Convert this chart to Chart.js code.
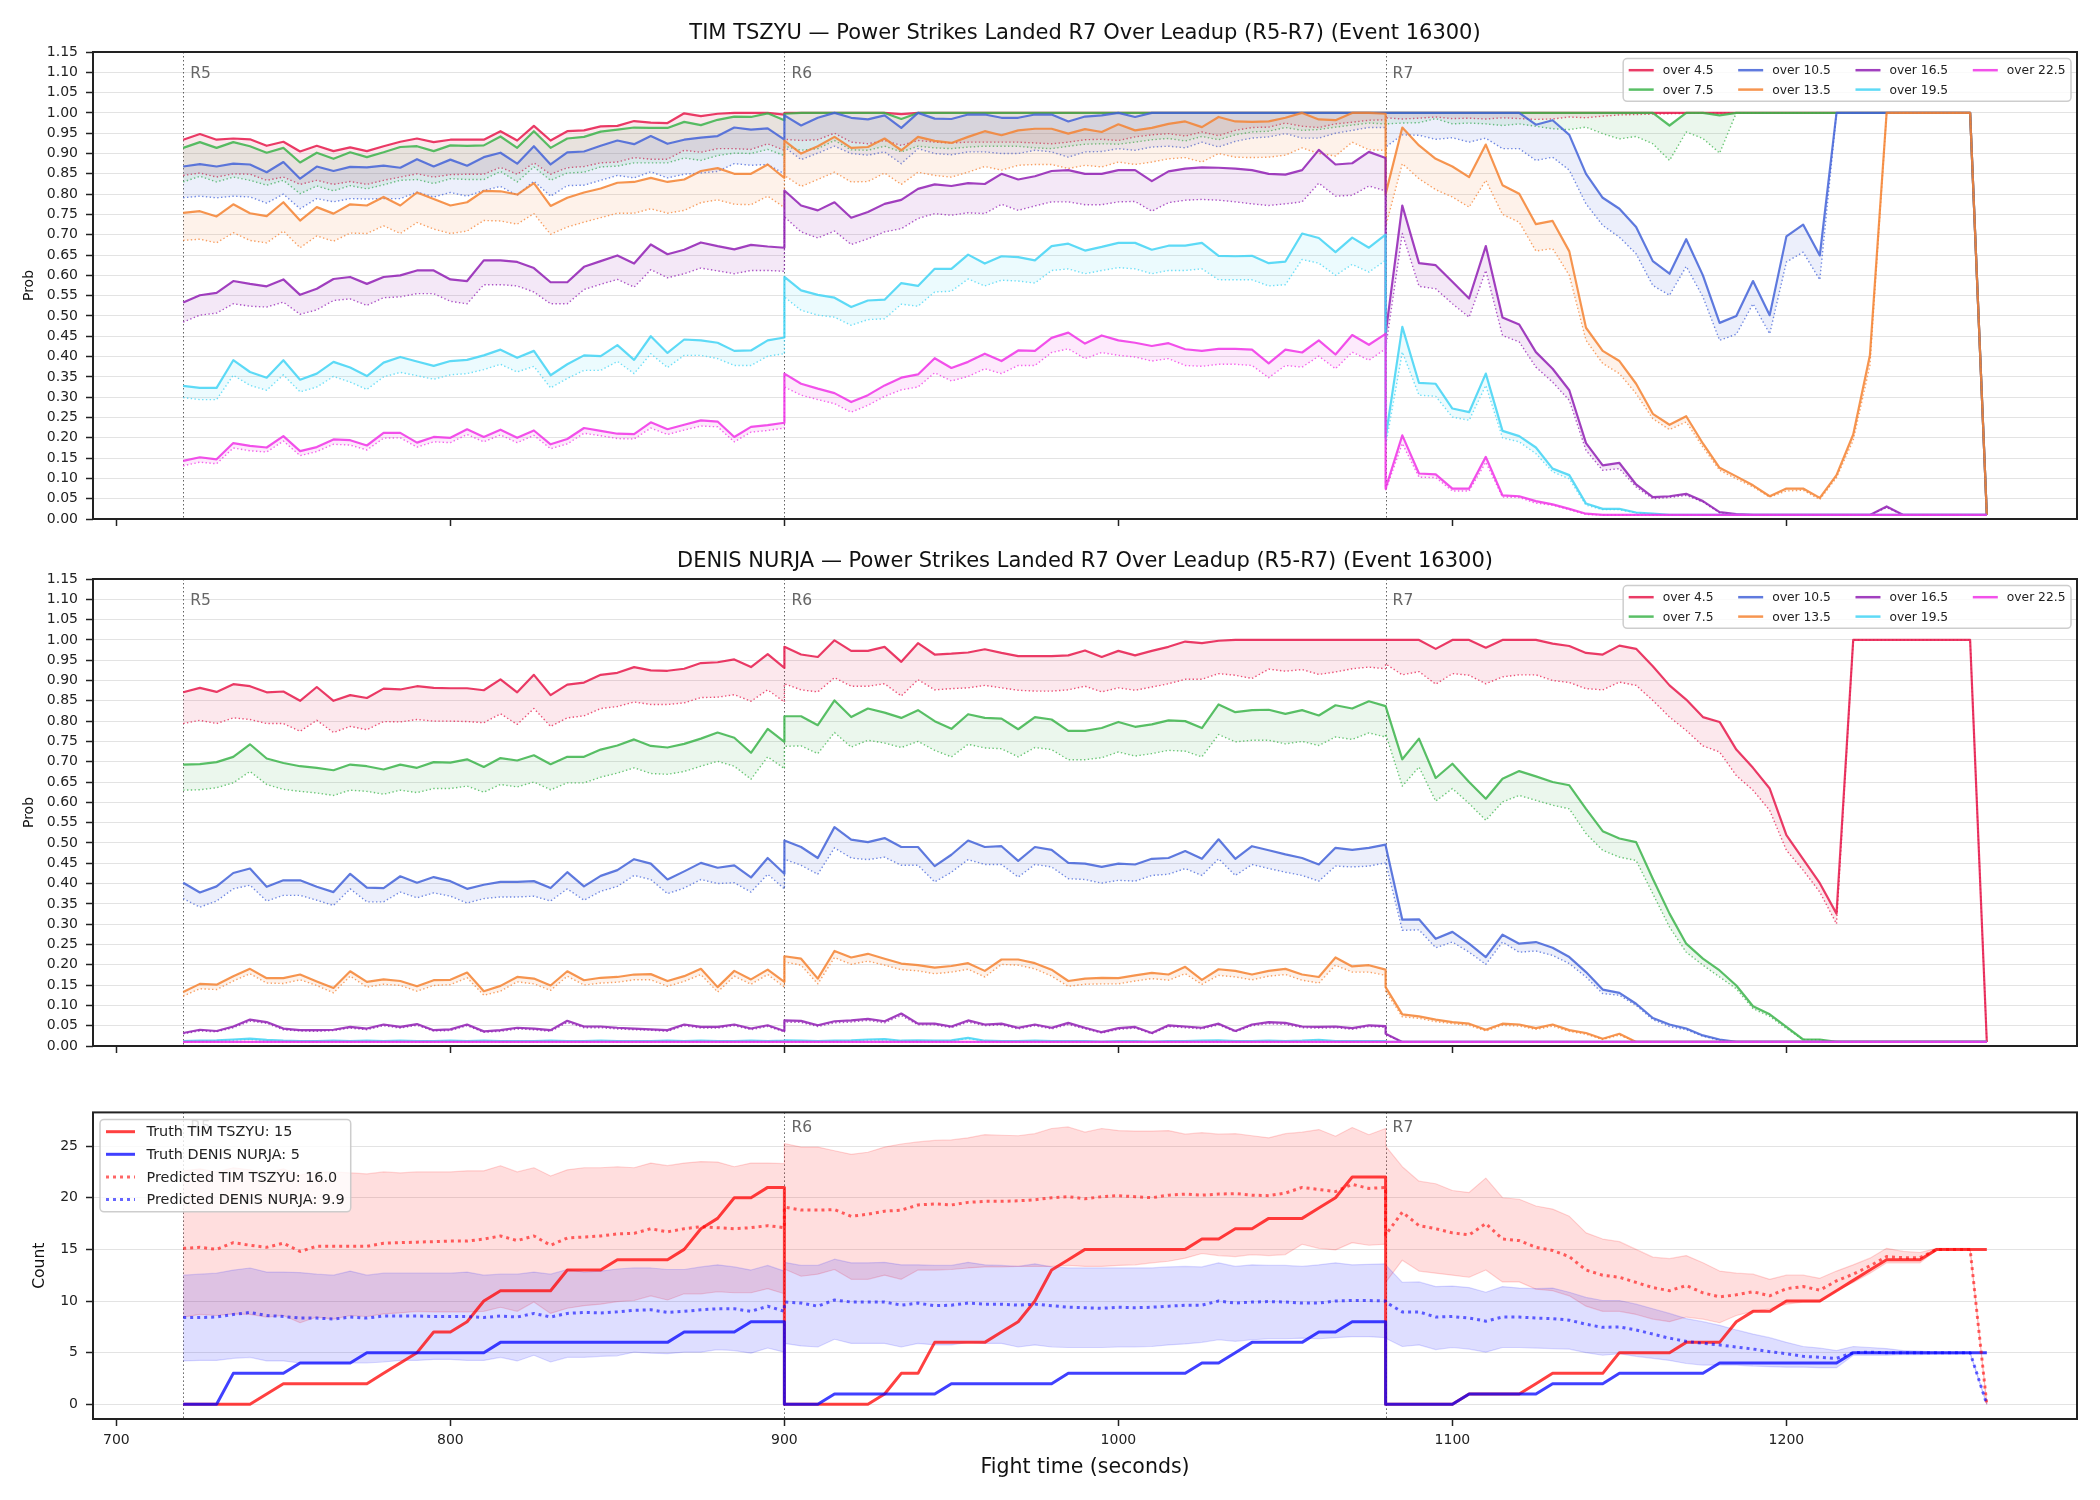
<!DOCTYPE html>
<html>
<head>
<meta charset="utf-8">
<script src="https://cdn.jsdelivr.net/npm/chart.js@4.4.1/dist/chart.umd.min.js"></script>
<style>
  html, body { margin: 0; padding: 0; background: #fff; }
  #wrap { position: relative; width: 2100px; height: 1500px; }
  #wrap canvas { position: absolute; left: 0; }
</style>
</head>
<body>
<div id="wrap">
  <canvas id="c1" width="2100" height="548" style="top:0px"></canvas>
  <canvas id="c2" width="2100" height="548" style="top:548px"></canvas>
  <canvas id="c3" width="2100" height="404" style="top:1096px"></canvas>
</div>
<script>
// ---- categories / ticks ----
const roundStarts = [720, 900, 1080];
const roundNames = ['R5', 'R6', 'R7'];
const probLevels = ['over 4.5', 'over 7.5', 'over 10.5', 'over 13.5', 'over 16.5', 'over 19.5', 'over 22.5'];
const probTicks = [0, 0.05, 0.1, 0.15, 0.2, 0.25, 0.3, 0.35, 0.4, 0.45, 0.5, 0.55, 0.6, 0.65, 0.7, 0.75, 0.8, 0.85, 0.9, 0.95, 1, 1.05, 1.1, 1.15];
const countTicks = [0, 5, 10, 15, 20, 25];
const xTickVals = [700, 800, 900, 1000, 1100, 1200];

// sample times: every 5 s inside each round, both ends included
const times = [];
roundStarts.forEach(s => { for (let k = 0; k <= 36; k++) times.push(s + 5 * k); });

// ---- TIM TSZYU: solid lines (one row per round: R5 / R6 / R7) ----
const tim45 = [
  0.934,0.948,0.934,0.937,0.935,0.919,0.929,0.905,0.919,0.906, 0.915,0.906,0.918,0.929,0.937,0.928,0.934,0.934,0.934,0.955, 0.932,0.968,0.932,0.955,0.957,0.967,0.968,0.980,0.976,0.975, 0.999,0.992,0.998,1,1,1,0.996,
  1,1,1,1,1,1,1,0.997,1,1, 1,1,1,1,1,1,1,1,1,1, 1,1,1,1,1,1,1,1,1,1, 1,1,1,1,1,1,1,
  1,1,1,1,1,1,1,1,1,1, 1,1,1,1,1,1,1,1,1,1, 1,1,1,1,1,1,1,1,1,1, 1,1,1,1,1,1,0.01];
const tim45p = [
  0.846,0.852,0.842,0.850,0.849,0.834,0.842,0.824,0.834,0.824, 0.831,0.824,0.834,0.842,0.850,0.842,0.848,0.849,0.849,0.866, 0.849,0.877,0.849,0.865,0.868,0.877,0.879,0.890,0.886,0.886, 0.908,0.903,0.912,0.912,0.910,0.924,0.908,
  0.935,0.932,0.934,0.950,0.928,0.924,0.932,0.920,0.932,0.928, 0.926,0.928,0.928,0.928,0.928,0.926,0.924,0.928,0.934,0.935, 0.932,0.941,0.946,0.949,0.943,0.953,0.944,0.957,0.964,0.965, 0.975,0.967,0.964,0.973,0.977,0.982,0.983,
  0.988,0.985,0.987,0.990,0.986,0.987,0.985,0.988,0.986,0.984, 0.985,0.990,0.988,0.992,0.995,0.996,0.997,0.998,0.999,0.999, 1,1,1,1,1,1,1,1,1,1, 1,1,1,1,1,1,0.01];
const tim75 = [
  0.914,0.928,0.914,0.928,0.918,0.902,0.914,0.878,0.902,0.887, 0.903,0.891,0.903,0.916,0.918,0.906,0.920,0.919,0.920,0.942, 0.914,0.955,0.914,0.937,0.941,0.954,0.959,0.964,0.963,0.963, 0.978,0.970,0.983,0.991,0.990,0.999,0.982,
  0.998,1,1,1,1,1,1,0.985,1,1, 1,1,1,1,1,1,1,1,1,1, 1,1,1,1,1,1,1,1,1,1, 1,1,1,1,1,1,1,
  1,1,1,1,1,1,1,1,1,1, 1,1,1,1,1,1,1,0.969,1,1, 0.994,1,1,1,1,1,1,1,1,1, 1,1,1,1,1,1,0.01];
const tim75p = [
  0.830,0.844,0.830,0.842,0.834,0.822,0.834,0.801,0.820,0.808, 0.821,0.813,0.823,0.834,0.836,0.826,0.838,0.836,0.836,0.856, 0.830,0.867,0.834,0.852,0.854,0.867,0.869,0.877,0.877,0.877, 0.889,0.883,0.895,0.901,0.900,0.910,0.895,
  0.918,0.908,0.912,0.932,0.909,0.908,0.918,0.904,0.918,0.914, 0.912,0.916,0.918,0.918,0.918,0.914,0.912,0.918,0.923,0.924, 0.923,0.928,0.934,0.937,0.931,0.942,0.934,0.946,0.953,0.955, 0.964,0.957,0.959,0.965,0.970,0.975,0.973,
  0.973,0.975,0.976,0.986,0.973,0.975,0.973,0.969,0.973,0.967, 0.961,0.959,0.965,0.949,0.936,0.942,0.924,0.883,0.953,0.937, 0.901,1,1,1,1,1,1,1,1,1, 1,1,1,1,1,1,0.01];
const tim105 = [
  0.868,0.874,0.868,0.875,0.873,0.854,0.879,0.838,0.868,0.857, 0.867,0.866,0.870,0.865,0.886,0.868,0.885,0.870,0.891,0.902, 0.875,0.918,0.873,0.903,0.905,0.919,0.932,0.923,0.943,0.924, 0.934,0.939,0.943,0.964,0.959,0.962,0.934,
  0.994,0.969,0.988,1,0.988,0.984,0.994,0.963,1,0.986, 0.985,0.996,0.996,0.988,0.988,0.996,0.996,0.979,0.991,0.994, 1,0.990,1,1,1,1,1,1,1,1, 1,1,1,1,1,1,1,
  1,1,1,1,1,1,1,1,1,0.971, 0.982,0.946,0.850,0.791,0.764,0.719,0.635,0.604,0.689,0.600, 0.483,0.500,0.586,0.502,0.696,0.725,0.649,1,1,1, 1,1,1,1,1,1,0.01];
const tim105p = [
  0.791,0.795,0.791,0.795,0.793,0.778,0.800,0.764,0.789,0.781, 0.789,0.788,0.789,0.789,0.805,0.793,0.804,0.795,0.809,0.819, 0.797,0.832,0.795,0.821,0.822,0.834,0.846,0.840,0.855,0.840, 0.849,0.852,0.856,0.875,0.871,0.873,0.850,
  0.916,0.885,0.901,0.918,0.900,0.896,0.904,0.875,0.912,0.900, 0.897,0.904,0.904,0.900,0.900,0.908,0.904,0.891,0.904,0.905, 0.912,0.908,0.916,0.918,0.914,0.928,0.916,0.930,0.938,0.941, 0.949,0.938,0.938,0.950,0.957,0.964,0.964,
  0.916,0.946,0.945,0.935,0.939,0.928,0.938,0.912,0.912,0.883, 0.891,0.859,0.776,0.723,0.694,0.653,0.575,0.551,0.622,0.547, 0.440,0.455,0.530,0.456,0.633,0.657,0.589,1,1,1, 1,1,1,1,1,1,0.01];
const tim135 = [
  0.754,0.758,0.745,0.775,0.753,0.746,0.780,0.735,0.768,0.752, 0.775,0.772,0.793,0.772,0.804,0.788,0.772,0.780,0.808,0.807, 0.799,0.827,0.771,0.791,0.804,0.814,0.828,0.830,0.840,0.830, 0.836,0.857,0.864,0.850,0.850,0.873,0.840,
  0.932,0.900,0.918,0.941,0.914,0.916,0.937,0.908,0.941,0.931, 0.926,0.941,0.955,0.945,0.957,0.961,0.961,0.949,0.960,0.953, 0.972,0.957,0.963,0.973,0.979,0.965,0.990,0.979,0.978,0.979, 0.988,1,0.984,0.982,1,1,0.998,
  0.800,0.964,0.920,0.887,0.868,0.842,0.922,0.822,0.801,0.726, 0.734,0.659,0.471,0.414,0.389,0.333,0.259,0.232,0.253,0.186, 0.126,0.105,0.083,0.056,0.075,0.075,0.052,0.108,0.208,0.403, 1,1,1,1,1,1,0.01];
const tim135p = [
  0.686,0.689,0.680,0.705,0.686,0.680,0.709,0.668,0.697,0.684, 0.704,0.703,0.722,0.703,0.730,0.714,0.703,0.709,0.735,0.734, 0.726,0.752,0.701,0.719,0.731,0.742,0.753,0.753,0.764,0.753, 0.760,0.779,0.786,0.775,0.774,0.795,0.767,
  0.846,0.819,0.836,0.854,0.830,0.831,0.852,0.824,0.854,0.846, 0.842,0.854,0.868,0.859,0.871,0.873,0.873,0.863,0.871,0.867, 0.879,0.873,0.879,0.887,0.890,0.879,0.900,0.891,0.890,0.891, 0.896,0.914,0.900,0.894,0.928,0.909,0.908,
  0.720,0.875,0.838,0.811,0.793,0.768,0.834,0.750,0.731,0.660, 0.666,0.600,0.440,0.383,0.358,0.309,0.247,0.220,0.239,0.177, 0.120,0.099,0.079,0.054,0.069,0.071,0.048,0.102,0.194,0.378, 1,1,1,1,1,1,0.01];
const tim165 = [
  0.533,0.551,0.557,0.586,0.579,0.573,0.590,0.552,0.567,0.591, 0.596,0.579,0.596,0.600,0.612,0.612,0.590,0.586,0.637,0.637, 0.633,0.618,0.583,0.583,0.621,0.635,0.649,0.629,0.676,0.652, 0.663,0.681,0.672,0.664,0.675,0.671,0.668,
  0.809,0.772,0.760,0.780,0.742,0.756,0.776,0.786,0.813,0.824, 0.820,0.827,0.825,0.850,0.836,0.844,0.857,0.859,0.850,0.850, 0.859,0.859,0.832,0.856,0.863,0.866,0.865,0.863,0.859,0.850, 0.848,0.859,0.909,0.873,0.876,0.904,0.889,
  0.455,0.772,0.630,0.625,0.584,0.543,0.672,0.496,0.479,0.411, 0.370,0.317,0.187,0.132,0.138,0.085,0.054,0.056,0.062,0.044, 0.017,0.012,0.01,0.01,0.01,0.01,0.01,0.01,0.01,0.01, 0.031,0.01,0.01,0.01,0.01,0.01,0.01];
const tim165p = [
  0.485,0.502,0.507,0.530,0.524,0.522,0.534,0.504,0.515,0.538, 0.542,0.526,0.545,0.547,0.555,0.555,0.536,0.530,0.577,0.577, 0.574,0.559,0.530,0.530,0.565,0.578,0.590,0.571,0.614,0.594, 0.604,0.618,0.611,0.604,0.612,0.612,0.610,
  0.744,0.707,0.692,0.709,0.676,0.690,0.707,0.715,0.740,0.752, 0.748,0.754,0.752,0.775,0.760,0.771,0.781,0.781,0.774,0.774, 0.781,0.782,0.758,0.779,0.785,0.787,0.785,0.781,0.776,0.772, 0.776,0.781,0.827,0.795,0.797,0.820,0.808,
  0.420,0.703,0.573,0.567,0.530,0.497,0.612,0.452,0.436,0.374, 0.337,0.292,0.169,0.120,0.124,0.079,0.050,0.053,0.058,0.042, 0.015,0.011,0.01,0.01,0.01,0.01,0.01,0.01,0.01,0.01, 0.028,0.01,0.01,0.01,0.01,0.01,0.01];
const tim195 = [
  0.328,0.323,0.323,0.391,0.362,0.348,0.391,0.343,0.358,0.387, 0.373,0.352,0.385,0.399,0.388,0.377,0.389,0.392,0.403,0.417, 0.397,0.414,0.354,0.381,0.403,0.401,0.428,0.392,0.450,0.409, 0.442,0.440,0.434,0.414,0.415,0.440,0.447,
  0.596,0.563,0.552,0.545,0.522,0.538,0.540,0.581,0.574,0.616, 0.616,0.651,0.629,0.647,0.645,0.637,0.672,0.678,0.661,0.670, 0.680,0.680,0.663,0.673,0.673,0.680,0.648,0.647,0.648,0.630, 0.634,0.703,0.692,0.657,0.693,0.668,0.700,
  0.200,0.473,0.335,0.333,0.272,0.263,0.358,0.217,0.204,0.176, 0.124,0.108,0.038,0.025,0.025,0.016,0.013,0.01,0.01,0.01, 0.01,0.01,0.01,0.01,0.01,0.01,0.01,0.01,0.01,0.01, 0.01,0.01,0.01,0.01,0.01,0.01,0.01];
const tim195p = [
  0.299,0.294,0.294,0.354,0.329,0.317,0.355,0.313,0.325,0.351, 0.337,0.319,0.350,0.361,0.353,0.344,0.355,0.358,0.368,0.381, 0.362,0.376,0.323,0.346,0.366,0.366,0.388,0.358,0.407,0.373, 0.403,0.403,0.395,0.378,0.378,0.401,0.407,
  0.547,0.514,0.502,0.497,0.477,0.491,0.493,0.529,0.524,0.559, 0.561,0.591,0.574,0.588,0.586,0.581,0.612,0.616,0.604,0.612, 0.619,0.616,0.604,0.612,0.612,0.616,0.589,0.589,0.589,0.574, 0.577,0.639,0.630,0.600,0.627,0.608,0.637,
  0.180,0.411,0.305,0.302,0.251,0.243,0.329,0.200,0.190,0.161, 0.116,0.099,0.034,0.023,0.023,0.015,0.012,0.01,0.01,0.01, 0.01,0.01,0.01,0.01,0.01,0.01,0.01,0.01,0.01,0.01, 0.01,0.01,0.01,0.01,0.01,0.01,0.01];
const tim225 = [
  0.143,0.152,0.147,0.187,0.180,0.176,0.204,0.167,0.177,0.196, 0.194,0.181,0.212,0.212,0.188,0.202,0.200,0.221,0.202,0.220, 0.200,0.218,0.184,0.197,0.224,0.217,0.210,0.209,0.238,0.221, 0.232,0.243,0.240,0.202,0.227,0.231,0.237,
  0.358,0.333,0.321,0.310,0.288,0.305,0.329,0.348,0.356,0.396, 0.372,0.387,0.407,0.389,0.415,0.414,0.446,0.459,0.432,0.452, 0.440,0.434,0.426,0.433,0.418,0.414,0.419,0.419,0.417,0.383, 0.417,0.410,0.440,0.405,0.453,0.429,0.456,
  0.075,0.206,0.112,0.110,0.075,0.075,0.153,0.058,0.056,0.044, 0.036,0.025,0.013,0.01,0.01,0.01,0.01,0.01,0.01,0.01, 0.01,0.01,0.01,0.01,0.01,0.01,0.01,0.01,0.01,0.01, 0.01,0.01,0.01,0.01,0.01,0.01,0.01];
const tim225p = [
  0.131,0.140,0.136,0.175,0.168,0.165,0.192,0.156,0.166,0.184, 0.182,0.170,0.199,0.200,0.177,0.190,0.188,0.208,0.190,0.207, 0.188,0.206,0.173,0.185,0.211,0.205,0.198,0.197,0.224,0.208, 0.219,0.229,0.227,0.190,0.214,0.218,0.224,
  0.325,0.305,0.294,0.284,0.263,0.280,0.302,0.318,0.325,0.360, 0.340,0.351,0.370,0.358,0.378,0.378,0.410,0.419,0.395,0.410, 0.403,0.399,0.389,0.395,0.378,0.376,0.381,0.381,0.378,0.348, 0.378,0.374,0.401,0.370,0.411,0.391,0.419,
  0.070,0.186,0.103,0.102,0.069,0.069,0.140,0.054,0.053,0.039, 0.034,0.023,0.011,0.01,0.01,0.01,0.01,0.01,0.01,0.01, 0.01,0.01,0.01,0.01,0.01,0.01,0.01,0.01,0.01,0.01, 0.01,0.01,0.01,0.01,0.01,0.01,0.01];

// ---- DENIS NURJA ----
const den45 = [
  0.871,0.882,0.872,0.891,0.886,0.871,0.873,0.850,0.884,0.850, 0.864,0.857,0.880,0.878,0.886,0.882,0.881,0.881,0.876,0.903, 0.871,0.914,0.864,0.890,0.895,0.914,0.919,0.933,0.925,0.924, 0.929,0.943,0.945,0.952,0.933,0.965,0.931,
  0.983,0.964,0.958,0.999,0.973,0.973,0.983,0.946,0.992,0.964, 0.966,0.969,0.977,0.968,0.960,0.960,0.960,0.962,0.974,0.958, 0.973,0.962,0.973,0.983,0.996,0.992,0.998,1,1,1, 1,1,1,1,1,1,1,
  1,1,1,0.978,1,1,0.981,1,1,1, 0.991,0.985,0.968,0.964,0.986,0.978,0.935,0.888,0.853,0.810, 0.798,0.730,0.685,0.634,0.519,0.460,0.401,0.326,1,1, 1,1,1,1,1,1,0.01];
const den45p = [
  0.794,0.802,0.794,0.808,0.804,0.794,0.794,0.775,0.802,0.772, 0.787,0.779,0.799,0.798,0.804,0.800,0.800,0.799,0.796,0.818, 0.792,0.831,0.787,0.808,0.813,0.831,0.836,0.847,0.841,0.841, 0.845,0.858,0.859,0.865,0.849,0.877,0.847,
  0.892,0.877,0.872,0.907,0.886,0.886,0.892,0.862,0.902,0.877, 0.880,0.882,0.888,0.882,0.876,0.874,0.874,0.877,0.886,0.872, 0.882,0.876,0.884,0.892,0.903,0.903,0.917,0.913,0.905,0.928, 0.923,0.927,0.915,0.921,0.929,0.933,0.929,
  0.941,0.914,0.922,0.891,0.917,0.913,0.892,0.909,0.914,0.914, 0.900,0.895,0.880,0.877,0.896,0.888,0.851,0.810,0.777,0.739, 0.724,0.666,0.630,0.580,0.482,0.433,0.379,0.301,1,1, 1,1,1,1,1,1,0.01];
const den75 = [
  0.693,0.694,0.699,0.712,0.743,0.708,0.697,0.689,0.685,0.679, 0.693,0.689,0.681,0.693,0.685,0.699,0.698,0.706,0.687,0.709, 0.703,0.716,0.694,0.712,0.712,0.730,0.740,0.755,0.739,0.735, 0.744,0.757,0.772,0.759,0.722,0.781,0.749,
  0.812,0.812,0.790,0.851,0.810,0.831,0.821,0.808,0.827,0.800, 0.781,0.817,0.808,0.806,0.780,0.810,0.804,0.776,0.776,0.783, 0.798,0.786,0.792,0.802,0.800,0.783,0.841,0.822,0.827,0.828, 0.818,0.827,0.814,0.839,0.831,0.849,0.837,
  0.837,0.706,0.757,0.660,0.695,0.650,0.609,0.658,0.677,0.664, 0.650,0.642,0.584,0.529,0.511,0.502,0.412,0.326,0.252,0.215, 0.186,0.149,0.098,0.078,0.047,0.016,0.016,0.01,0.01,0.01, 0.01,0.01,0.01,0.01,0.01,0.01,0.01];
const den75p = [
  0.630,0.631,0.636,0.648,0.676,0.644,0.632,0.627,0.623,0.617, 0.630,0.627,0.620,0.630,0.624,0.634,0.634,0.640,0.625,0.644, 0.638,0.650,0.631,0.648,0.648,0.662,0.672,0.685,0.671,0.669, 0.676,0.689,0.701,0.689,0.657,0.712,0.683,
  0.738,0.739,0.720,0.772,0.736,0.753,0.746,0.735,0.750,0.728, 0.712,0.743,0.734,0.732,0.712,0.735,0.730,0.705,0.705,0.710, 0.724,0.714,0.720,0.728,0.726,0.712,0.767,0.749,0.753,0.753, 0.744,0.750,0.740,0.761,0.755,0.771,0.761,
  0.769,0.640,0.687,0.603,0.634,0.597,0.556,0.601,0.617,0.605, 0.593,0.584,0.523,0.482,0.465,0.457,0.375,0.293,0.231,0.199, 0.170,0.141,0.092,0.073,0.043,0.016,0.015,0.01,0.01,0.01, 0.01,0.01,0.01,0.01,0.01,0.01,0.01];
const den105 = [
  0.402,0.378,0.393,0.426,0.437,0.392,0.408,0.408,0.392,0.379, 0.424,0.390,0.389,0.418,0.402,0.416,0.406,0.387,0.397,0.404, 0.404,0.406,0.389,0.428,0.393,0.419,0.433,0.460,0.449,0.410, 0.430,0.451,0.439,0.445,0.415,0.463,0.424,
  0.506,0.490,0.463,0.539,0.508,0.502,0.512,0.490,0.490,0.443, 0.471,0.506,0.490,0.492,0.456,0.490,0.483,0.451,0.449,0.441, 0.449,0.447,0.461,0.463,0.480,0.461,0.509,0.461,0.492,0.482, 0.472,0.463,0.447,0.488,0.483,0.488,0.496,
  0.494,0.311,0.312,0.264,0.281,0.252,0.219,0.274,0.252,0.256, 0.242,0.219,0.182,0.139,0.131,0.104,0.069,0.053,0.043,0.026, 0.016,0.01,0.01,0.01,0.01,0.01,0.01,0.01,0.01,0.01, 0.01,0.01,0.01,0.01,0.01,0.01,0.01];
const den105p = [
  0.363,0.342,0.357,0.387,0.396,0.357,0.371,0.371,0.359,0.346, 0.387,0.355,0.355,0.379,0.365,0.377,0.369,0.352,0.363,0.367, 0.367,0.369,0.357,0.387,0.359,0.381,0.393,0.420,0.410,0.375, 0.389,0.410,0.400,0.402,0.379,0.423,0.387,
  0.460,0.445,0.423,0.488,0.463,0.459,0.465,0.445,0.445,0.404, 0.428,0.459,0.447,0.447,0.416,0.447,0.441,0.412,0.410,0.401, 0.408,0.406,0.420,0.423,0.437,0.420,0.461,0.420,0.447,0.437, 0.428,0.420,0.406,0.443,0.441,0.443,0.451,
  0.453,0.285,0.286,0.242,0.256,0.231,0.201,0.256,0.231,0.234, 0.223,0.203,0.170,0.129,0.125,0.100,0.065,0.048,0.040,0.024, 0.014,0.01,0.01,0.01,0.01,0.01,0.01,0.01,0.01,0.01, 0.01,0.01,0.01,0.01,0.01,0.01,0.01];
const den135 = [
  0.133,0.153,0.151,0.172,0.190,0.167,0.167,0.176,0.159,0.143, 0.184,0.158,0.164,0.160,0.147,0.162,0.163,0.181,0.135,0.148, 0.170,0.166,0.149,0.184,0.162,0.168,0.170,0.176,0.177,0.160, 0.172,0.190,0.145,0.185,0.164,0.188,0.158,
  0.221,0.215,0.166,0.234,0.218,0.227,0.215,0.203,0.199,0.193, 0.197,0.204,0.185,0.213,0.213,0.204,0.188,0.160,0.166,0.168, 0.167,0.174,0.180,0.176,0.195,0.163,0.189,0.185,0.176,0.185, 0.190,0.176,0.170,0.218,0.196,0.199,0.188,
  0.145,0.078,0.073,0.065,0.059,0.055,0.040,0.055,0.053,0.044, 0.053,0.039,0.032,0.018,0.030,0.01,0.01,0.01,0.01,0.01, 0.01,0.01,0.01,0.01,0.01,0.01,0.01,0.01,0.01,0.01, 0.01,0.01,0.01,0.01,0.01,0.01,0.01];
const den135p = [
  0.123,0.141,0.139,0.160,0.178,0.155,0.154,0.163,0.149,0.131, 0.172,0.145,0.152,0.149,0.135,0.149,0.151,0.168,0.125,0.135, 0.158,0.153,0.137,0.172,0.150,0.155,0.157,0.163,0.163,0.147, 0.159,0.176,0.133,0.172,0.152,0.176,0.145,
  0.207,0.199,0.153,0.218,0.201,0.209,0.199,0.188,0.185,0.178, 0.182,0.189,0.170,0.201,0.199,0.190,0.172,0.147,0.152,0.153, 0.153,0.160,0.166,0.162,0.178,0.152,0.174,0.170,0.163,0.172, 0.176,0.162,0.155,0.199,0.182,0.182,0.174,
  0.135,0.072,0.068,0.060,0.055,0.051,0.037,0.051,0.049,0.041, 0.049,0.036,0.029,0.016,0.027,0.01,0.01,0.01,0.01,0.01, 0.01,0.01,0.01,0.01,0.01,0.01,0.01,0.01,0.01,0.01, 0.01,0.01,0.01,0.01,0.01,0.01,0.01];
const den165 = [
  0.032,0.040,0.037,0.048,0.065,0.059,0.043,0.039,0.039,0.040, 0.047,0.043,0.053,0.047,0.054,0.039,0.041,0.053,0.036,0.039, 0.045,0.043,0.039,0.062,0.048,0.048,0.045,0.043,0.041,0.039, 0.053,0.047,0.047,0.053,0.043,0.051,0.037,
  0.063,0.062,0.051,0.061,0.063,0.067,0.061,0.080,0.055,0.055, 0.048,0.063,0.053,0.055,0.045,0.053,0.045,0.057,0.045,0.034, 0.044,0.047,0.032,0.051,0.048,0.045,0.055,0.037,0.053,0.059, 0.057,0.048,0.047,0.048,0.044,0.051,0.049,
  0.030,0.01,0.01,0.01,0.01,0.01,0.01,0.01,0.01,0.01, 0.01,0.01,0.01,0.01,0.01,0.01,0.01,0.01,0.01,0.01, 0.01,0.01,0.01,0.01,0.01,0.01,0.01,0.01,0.01,0.01, 0.01,0.01,0.01,0.01,0.01,0.01,0.01];
const den165p = [
  0.030,0.037,0.035,0.045,0.061,0.056,0.040,0.037,0.036,0.038, 0.044,0.040,0.050,0.044,0.051,0.037,0.038,0.050,0.034,0.036, 0.042,0.040,0.036,0.058,0.045,0.045,0.042,0.040,0.039,0.036, 0.050,0.044,0.044,0.050,0.040,0.048,0.035,
  0.059,0.058,0.048,0.057,0.059,0.063,0.057,0.075,0.052,0.052, 0.045,0.059,0.050,0.052,0.042,0.050,0.042,0.053,0.042,0.032, 0.041,0.044,0.030,0.048,0.045,0.042,0.052,0.035,0.050,0.055, 0.053,0.045,0.044,0.045,0.041,0.048,0.046,
  0.028,0.01,0.01,0.01,0.01,0.01,0.01,0.01,0.01,0.01, 0.01,0.01,0.01,0.01,0.01,0.01,0.01,0.01,0.01,0.01, 0.01,0.01,0.01,0.01,0.01,0.01,0.01,0.01,0.01,0.01, 0.01,0.01,0.01,0.01,0.01,0.01,0.01];
const den195 = [
  0.012,0.013,0.014,0.016,0.018,0.015,0.013,0.012,0.012,0.013, 0.012,0.013,0.012,0.013,0.012,0.012,0.013,0.012,0.013,0.012, 0.012,0.012,0.013,0.012,0.012,0.013,0.012,0.012,0.012,0.013, 0.012,0.013,0.012,0.012,0.013,0.012,0.013,
  0.014,0.013,0.012,0.013,0.014,0.016,0.017,0.013,0.014,0.013, 0.014,0.020,0.013,0.012,0.012,0.013,0.012,0.012,0.012,0.011, 0.012,0.012,0.011,0.012,0.012,0.013,0.014,0.012,0.012,0.013, 0.012,0.013,0.015,0.012,0.012,0.012,0.012,
  0.011,0.01,0.01,0.01,0.01,0.01,0.01,0.01,0.01,0.01, 0.01,0.01,0.01,0.01,0.01,0.01,0.01,0.01,0.01,0.01, 0.01,0.01,0.01,0.01,0.01,0.01,0.01,0.01,0.01,0.01, 0.01,0.01,0.01,0.01,0.01,0.01,0.01];
const den195p = [
  0.011,0.012,0.013,0.014,0.016,0.013,0.012,0.011,0.011,0.012, 0.011,0.012,0.011,0.012,0.011,0.011,0.012,0.011,0.012,0.011, 0.011,0.011,0.012,0.011,0.011,0.012,0.011,0.011,0.011,0.012, 0.011,0.012,0.011,0.011,0.012,0.011,0.012,
  0.013,0.012,0.011,0.012,0.013,0.014,0.015,0.012,0.013,0.012, 0.013,0.018,0.012,0.011,0.011,0.012,0.011,0.011,0.011,0.010, 0.011,0.011,0.010,0.011,0.011,0.012,0.013,0.011,0.011,0.012, 0.011,0.012,0.014,0.011,0.011,0.011,0.011,
  0.010,0.01,0.01,0.01,0.01,0.01,0.01,0.01,0.01,0.01, 0.01,0.01,0.01,0.01,0.01,0.01,0.01,0.01,0.01,0.01, 0.01,0.01,0.01,0.01,0.01,0.01,0.01,0.01,0.01,0.01, 0.01,0.01,0.01,0.01,0.01,0.01,0.01];
const den225 = [
  0.01,0.01,0.01,0.01,0.01,0.01,0.01,0.01,0.01,0.01, 0.01,0.01,0.01,0.01,0.01,0.01,0.01,0.01,0.01,0.01, 0.01,0.01,0.01,0.01,0.01,0.01,0.01,0.01,0.01,0.01, 0.01,0.01,0.01,0.01,0.01,0.01,0.01,
  0.01,0.01,0.01,0.01,0.01,0.01,0.01,0.01,0.01,0.01, 0.01,0.01,0.01,0.01,0.01,0.01,0.01,0.01,0.01,0.01, 0.01,0.01,0.01,0.01,0.01,0.01,0.01,0.01,0.01,0.01, 0.01,0.01,0.01,0.01,0.01,0.01,0.01,
  0.01,0.01,0.01,0.01,0.01,0.01,0.01,0.01,0.01,0.01, 0.01,0.01,0.01,0.01,0.01,0.01,0.01,0.01,0.01,0.01, 0.01,0.01,0.01,0.01,0.01,0.01,0.01,0.01,0.01,0.01, 0.01,0.01,0.01,0.01,0.01,0.01,0.01];
const den225p = den225.slice();

// ---- counts panel ----
const truthTim = [
  0,0,0,0,0,1,2,2,2,2, 2,2,3,4,5,7,7,8,10,11, 11,11,11,13,13,13,14,14,14,14, 15,17,18,20,20,21,21,
  0,0,0,0,0,0,1,3,3,6, 6,6,6,7,8,10,13,14,15,15, 15,15,15,15,15,16,16,17,17,18, 18,18,19,20,22,22,22,
  0,0,0,0,0,1,1,1,1,2, 3,3,3,3,5,5,5,5,6,6, 6,8,9,9,10,10,10,11,12,13, 14,14,14,15,15,15,15];
const truthDen = [
  0,0,0,3,3,3,3,4,4,4, 4,5,5,5,5,5,5,5,5,6, 6,6,6,6,6,6,6,6,6,6, 7,7,7,7,8,8,8,
  0,0,0,1,1,1,1,1,1,1, 2,2,2,2,2,2,2,3,3,3, 3,3,3,3,3,4,4,5,6,6, 6,6,7,7,8,8,8,
  0,0,0,0,0,1,1,1,1,1, 2,2,2,2,3,3,3,3,3,3, 4,4,4,4,4,4,4,4,5,5, 5,5,5,5,5,5,5];
const predTim = [
  15.1,15.2,15.0,15.65,15.4,15.2,15.6,14.8,15.3,15.3, 15.3,15.3,15.6,15.65,15.7,15.75,15.8,15.8,16.0,16.3, 15.85,16.3,15.4,16.1,16.2,16.3,16.5,16.55,17.0,16.7, 17.0,17.2,17.1,17.0,17.1,17.3,17.1,
  19.1,18.8,18.8,18.85,18.2,18.4,18.7,18.8,19.3,19.4, 19.3,19.55,19.65,19.65,19.7,19.8,20.0,20.1,19.9,20.1, 20.2,20.1,20.0,20.25,20.35,20.25,20.35,20.4,20.25,20.2, 20.45,21.0,20.8,20.6,21.3,20.9,21.0,
  16.4,18.6,17.3,17.0,16.6,16.4,17.5,16.0,15.85,15.2, 14.9,14.3,13.0,12.5,12.3,11.8,11.3,11.0,11.5,10.8, 10.4,10.6,10.9,10.5,11.2,11.4,11.05,11.95,12.6,13.4, 14.3,14.2,14.2,15.0,15.0,15.0,0];
const predDen = [
  8.4,8.4,8.45,8.7,8.9,8.6,8.5,8.35,8.35,8.25, 8.45,8.35,8.55,8.55,8.55,8.5,8.5,8.5,8.4,8.55, 8.45,8.8,8.45,8.8,8.9,8.85,8.95,9.1,9.15,8.9, 9.0,9.15,9.25,9.25,9.0,9.5,9.0,
  9.9,9.8,9.5,10.1,9.9,9.9,9.9,9.6,9.8,9.55, 9.6,9.8,9.7,9.7,9.6,9.7,9.55,9.4,9.35,9.3, 9.4,9.35,9.4,9.5,9.6,9.6,10.0,9.8,9.9,9.95, 9.9,9.8,9.8,10.0,10.05,10.05,10.0,
  9.9,8.95,8.95,8.45,8.5,8.35,8.05,8.45,8.45,8.35, 8.3,8.15,7.75,7.45,7.5,7.2,6.8,6.4,6.1,5.9, 5.75,5.55,5.35,5.1,4.9,4.65,4.55,4.45,5.0,5.05, 5.0,5.0,5.0,5.0,5.0,5.0,0];
const timHi = [
  22.6,22.8,22.5,22.9,22.7,22.4,22.8,22.2,22.5,22.5, 22.4,22.3,22.5,22.4,22.5,22.5,22.5,22.6,22.6,23.1, 22.5,22.9,22.1,22.7,22.9,22.9,23.0,22.9,23.35,23.1, 23.35,23.5,23.45,23.0,23.35,23.35,23.3,
  25.25,24.9,24.9,24.55,24.2,24.4,24.9,25.2,25.4,25.55, 25.6,25.8,26.1,26.05,26.0,26.2,26.7,26.85,26.35,26.7, 26.5,26.45,26.45,26.5,26.15,26.3,26.15,26.2,26.0,25.8, 26.2,26.35,26.6,25.95,26.8,26.1,26.7,
  25.0,23.0,21.6,21.35,20.7,20.5,21.9,20.0,19.85,19.2, 18.9,18.2,16.6,16.0,15.75,15.0,14.25,14.1,14.4,13.7, 12.9,12.7,12.6,12.1,12.5,12.5,12.2,12.9,13.5,14.15, 15.1,14.8,14.7,15.1,15.1,15.1,0];
const timLo = [
  8.45,8.7,8.6,8.75,8.7,8.45,8.6,7.9,8.45,8.25, 8.6,8.5,8.75,8.85,9.0,8.95,8.95,8.95,9.0,9.4, 9.0,9.9,8.8,9.3,9.55,9.7,9.95,10.05,10.5,10.1, 10.7,10.7,10.9,10.8,10.8,11.2,10.7,
  13.1,12.4,12.6,13.05,12.1,12.1,12.5,12.1,13.0,13.0, 13.05,13.2,13.3,13.3,13.35,13.35,13.35,13.45,13.35,13.35, 13.45,13.5,13.7,13.85,14.15,14.6,14.4,14.3,14.5,14.4, 14.5,15.5,15.1,14.95,15.65,15.4,15.5,
  11.8,13.95,12.9,12.7,12.5,12.3,13.0,11.85,11.85,11.15, 11.0,10.5,9.5,9.0,9.0,8.7,8.25,8.0,8.45,8.25, 7.9,8.6,9.0,9.25,9.7,9.9,9.9,11.0,11.8,12.7, 13.7,13.7,13.7,14.95,14.95,14.95,0];
const denHi = [
  12.5,12.6,12.7,13.0,13.2,12.8,12.8,12.75,12.6,12.5, 12.9,12.5,12.7,12.7,12.7,12.7,12.7,12.8,12.5,12.6, 12.6,12.8,12.6,13.05,12.8,12.9,13.1,13.2,13.2,13.05, 13.05,13.3,13.5,13.3,13.0,13.45,12.9,
  13.75,13.45,13.45,14.05,13.7,13.7,13.75,13.5,13.5,13.45, 13.45,13.75,13.5,13.45,13.35,13.6,13.3,13.2,13.2,13.2, 13.2,13.2,13.2,13.3,13.35,13.3,13.7,13.35,13.5,13.45, 13.45,13.35,13.5,13.7,13.5,13.55,13.6,
  13.5,11.8,11.85,11.4,11.45,11.3,10.85,11.4,11.25,11.2, 11.25,10.85,10.35,10.05,10.05,9.7,9.25,8.8,8.3,8.0, 7.65,7.2,6.8,6.45,6.0,5.6,5.45,5.2,5.6,5.5, 5.4,5.2,5.15,5.05,5.05,5.05,0];
const denLo = [
  4.2,4.25,4.25,4.45,4.55,4.2,4.2,4.0,4.0,4.0, 4.0,4.0,4.1,4.25,4.25,4.35,4.35,4.25,4.25,4.55, 4.2,4.75,4.1,4.55,4.55,4.65,4.7,5.05,4.95,4.9, 5.05,5.05,5.3,5.2,4.95,5.45,5.05,
  5.9,5.65,5.55,6.3,5.9,5.9,5.9,5.55,5.9,5.75, 5.75,6.0,5.9,5.9,5.55,5.75,5.55,5.5,5.5,5.5, 5.55,5.55,5.6,5.75,5.85,6.0,6.25,6.1,6.25,6.35, 6.35,6.4,6.35,6.45,6.55,6.55,6.45,
  6.4,5.6,5.75,5.3,5.5,5.35,5.05,5.5,5.5,5.45, 5.4,5.35,5.0,4.75,4.9,4.65,4.45,4.25,3.95,3.8, 3.8,3.8,3.7,3.65,3.6,3.6,3.55,3.55,4.75,4.75, 4.75,4.8,4.8,4.85,4.85,4.9,0];

// ---- styling ----
const FONT = "'DejaVu Sans', 'Liberation Sans', sans-serif";
Chart.defaults.font.family = FONT;
Chart.defaults.color = '#222';
const probColors = ['#e6194b', '#3cb44b', '#4363d8', '#f58231', '#911eb4', '#42d4f4', '#f032e6'];
const xMin = 693, xMax = 1287;

function hexA(hex, a) {
  const n = parseInt(hex.slice(1), 16);
  return `rgba(${(n >> 16) & 255},${(n >> 8) & 255},${n & 255},${a})`;
}
const pts = arr => arr.map((y, i) => ({ x: times[i], y: y }));

function makeScales(yMin, yMax, yTickVals, yFmt, showXLabels, xHeight) {
  return {
    x: {
      type: 'linear', min: xMin, max: xMax,
      afterBuildTicks: s => { s.ticks = xTickVals.map(v => ({ value: v })); },
      afterFit: s => { s.height = xHeight; },
      grid: { drawOnChartArea: false, drawTicks: true, tickLength: 7, tickColor: '#222', tickWidth: 1.5 },
      border: { display: false },
      ticks: { display: showXLabels, font: { size: 14 }, color: '#222', padding: 6, maxRotation: 0, autoSkip: false,
               callback: v => String(v) }
    },
    y: {
      type: 'linear', min: yMin, max: yMax,
      afterBuildTicks: s => { s.ticks = yTickVals.map(v => ({ value: v })); },
      afterFit: s => { s.width = 80; },
      grid: { color: 'rgba(0,0,0,0.11)', lineWidth: 1, drawTicks: true, tickLength: 7, tickColor: '#222', tickWidth: 1.5 },
      border: { display: false },
      ticks: { font: { size: 14 }, color: '#222', padding: 8, autoSkip: false, callback: yFmt }
    }
  };
}

function drawLegend(ctx, L, a) {
  ctx.save();
  ctx.font = L.font;
  const cols = Math.ceil(L.items.length / L.rows);
  const colW = [];
  for (let c = 0; c < cols; c++) {
    let w = 0;
    for (let r = 0; r < L.rows; r++) {
      const it = L.items[c * L.rows + r];
      if (it) w = Math.max(w, ctx.measureText(it.label).width);
    }
    colW.push(L.swatch + L.textGap + w);
  }
  const width = 2 * L.padX + colW.reduce((s, w) => s + w, 0) + L.colGap * (cols - 1);
  const height = 2 * L.padY + L.rowH * L.rows;
  const left = L.alignRight ? a.right - L.dx - width : a.left + L.dx;
  const top = a.top + L.dy;
  ctx.beginPath();
  if (ctx.roundRect) ctx.roundRect(left, top, width, height, 4); else ctx.rect(left, top, width, height);
  ctx.fillStyle = 'rgba(255,255,255,0.8)';
  ctx.fill();
  ctx.strokeStyle = 'rgba(200,200,200,0.9)';
  ctx.lineWidth = 1.5;
  ctx.stroke();
  let x = left + L.padX;
  for (let c = 0; c < cols; c++) {
    for (let r = 0; r < L.rows; r++) {
      const it = L.items[c * L.rows + r];
      if (!it) continue;
      const y = top + L.padY + L.rowH * (r + 0.5);
      ctx.strokeStyle = it.color;
      ctx.lineWidth = it.width;
      ctx.setLineDash(it.dash || []);
      ctx.beginPath(); ctx.moveTo(x, y); ctx.lineTo(x + L.swatch, y); ctx.stroke();
      ctx.setLineDash([]);
      ctx.fillStyle = '#222';
      ctx.textAlign = 'left';
      ctx.textBaseline = 'middle';
      ctx.fillText(it.label, x + L.swatch + L.textGap, y + 1);
    }
    x += colW[c] + L.colGap;
  }
  ctx.restore();
}

function makeDecor(cfg) {
  return {
    id: 'decor',
    beforeDatasetsDraw(chart) {
      const ctx = chart.ctx, a = chart.chartArea, x = chart.scales.x;
      ctx.save();
      ctx.strokeStyle = 'rgba(70,70,70,0.85)';
      ctx.lineWidth = 1;
      ctx.setLineDash([1.5, 2.5]);
      roundStarts.forEach(s => {
        const px = Math.round(x.getPixelForValue(s)) + 0.5;
        ctx.beginPath(); ctx.moveTo(px, a.top); ctx.lineTo(px, a.bottom); ctx.stroke();
      });
      ctx.restore();
    },
    afterDatasetsDraw(chart) {
      const ctx = chart.ctx, a = chart.chartArea, x = chart.scales.x;
      ctx.save();
      ctx.fillStyle = '#666';
      ctx.font = '15.5px ' + FONT;
      ctx.textAlign = 'left';
      ctx.textBaseline = 'middle';
      roundStarts.forEach((s, i) => ctx.fillText(roundNames[i], x.getPixelForValue(s) + 7, a.top + cfg.roundDy));
      ctx.strokeStyle = '#222';
      ctx.lineWidth = 2;
      ctx.setLineDash([]);
      ctx.strokeRect(a.left, a.top, a.right - a.left, a.bottom - a.top);
      ctx.restore();
      drawLegend(ctx, cfg.legend, a);
    },
    afterDraw(chart) {
      const ctx = chart.ctx, a = chart.chartArea;
      ctx.save();
      ctx.fillStyle = '#111';
      ctx.textAlign = 'center';
      ctx.textBaseline = 'middle';
      if (cfg.title) {
        ctx.font = '21px ' + FONT;
        ctx.fillText(cfg.title, (a.left + a.right) / 2, cfg.titleY);
      }
      if (cfg.xlabel) {
        ctx.font = '20.5px ' + FONT;
        ctx.fillText(cfg.xlabel, (a.left + a.right) / 2, cfg.xlabelY);
      }
      ctx.translate(cfg.ylabelX, (a.top + a.bottom) / 2);
      ctx.rotate(-Math.PI / 2);
      ctx.font = cfg.ylabelFont + ' ' + FONT;
      ctx.fillText(cfg.ylabel, 0, 0);
      ctx.restore();
    }
  };
}

const baseOptions = pad => ({
  responsive: false,
  animation: false,
  devicePixelRatio: 1,
  layout: { padding: { left: 13, right: 23, top: pad.top, bottom: pad.bottom } },
  elements: { point: { radius: 0 }, line: { tension: 0, borderJoinStyle: 'round', borderCapStyle: 'butt' } },
  plugins: { legend: { display: false }, tooltip: { enabled: false } }
});

function probChart(id, title, titleY, solid, dotted, pad) {
  const datasets = [];
  solid.forEach((arr, k) => {
    datasets.push({
      label: probLevels[k], data: pts(arr),
      borderColor: hexA(probColors[k], 0.85), borderWidth: 2.2,
      backgroundColor: hexA(probColors[k], 0.1), fill: 2 * k + 1,
      order: -(2 * k + 1)
    });
    datasets.push({
      label: probLevels[k] + ' dotted', data: pts(dotted[k]),
      borderColor: hexA(probColors[k], 0.75), borderWidth: 1.4, borderDash: [1.4, 2.4],
      fill: false, order: -(2 * k)
    });
  });
  const opts = baseOptions(pad);
  opts.scales = makeScales(0, 1.15, probTicks, v => v.toFixed(2), false, 10);
  new Chart(document.getElementById(id), {
    type: 'line',
    data: { datasets },
    options: opts,
    plugins: [makeDecor({
      title, titleY, ylabel: 'Prob', ylabelX: 29.5, ylabelFont: '14px', roundDy: 22,
      legend: {
        items: probLevels.map((l, k) => ({ label: l, color: hexA(probColors[k], 0.85), width: 2.5 })),
        rows: 2, font: '12.3px ' + FONT, swatch: 25, textGap: 9, colGap: 24.6,
        padX: 5.5, padY: 2, rowH: 19.4, alignRight: true, dx: 6, dy: 6.5
      }
    })]
  });
}

probChart('c1', 'TIM TSZYU \u2014 Power Strikes Landed R7 Over Leadup (R5-R7) (Event 16300)', 33.5,
  [tim45, tim75, tim105, tim135, tim165, tim195, tim225],
  [tim45p, tim75p, tim105p, tim135p, tim165p, tim195p, tim225p],
  { top: 52, bottom: 19 });

probChart('c2', 'DENIS NURJA \u2014 Power Strikes Landed R7 Over Leadup (R5-R7) (Event 16300)', 13.5,
  [den45, den75, den105, den135, den165, den195, den225],
  [den45p, den75p, den105p, den135p, den165p, den195p, den225p],
  { top: 31, bottom: 40 });

// ---- counts chart ----
(function () {
  const red = 'rgba(255,0,0,0.75)', blue = 'rgba(0,0,255,0.75)';
  const datasets = [
    { data: pts(timHi), borderColor: 'rgba(255,0,0,0.16)', borderWidth: 1.2, backgroundColor: 'rgba(255,0,0,0.13)', fill: 1, order: 0 },
    { data: pts(timLo), borderColor: 'rgba(255,0,0,0.16)', borderWidth: 1.2, fill: false, order: -1 },
    { data: pts(denHi), borderColor: 'rgba(0,0,255,0.14)', borderWidth: 1.2, backgroundColor: 'rgba(0,0,255,0.13)', fill: 3, order: -2 },
    { data: pts(denLo), borderColor: 'rgba(0,0,255,0.14)', borderWidth: 1.2, fill: false, order: -3 },
    { data: pts(truthTim), borderColor: red, borderWidth: 3, fill: false, order: -4 },
    { data: pts(truthDen), borderColor: blue, borderWidth: 3, fill: false, order: -5 },
    { data: pts(predTim), borderColor: 'rgba(255,0,0,0.6)', borderWidth: 3, borderDash: [3, 4], fill: false, order: -6 },
    { data: pts(predDen), borderColor: 'rgba(0,0,255,0.6)', borderWidth: 3, borderDash: [3, 4], fill: false, order: -7 }
  ];
  const opts = baseOptions({ top: 11, bottom: 41 });
  opts.scales = makeScales(-1.42, 28.26, countTicks, v => String(v), true, 40);
  new Chart(document.getElementById('c3'), {
    type: 'line',
    data: { datasets },
    options: opts,
    plugins: [makeDecor({
      xlabel: 'Fight time (seconds)', xlabelY: 371.5,
      ylabel: 'Count', ylabelX: 40, ylabelFont: '15.5px', roundDy: 16,
      legend: {
        items: [
          { label: 'Truth TIM TSZYU: 15', color: red, width: 3 },
          { label: 'Truth DENIS NURJA: 5', color: blue, width: 3 },
          { label: 'Predicted TIM TSZYU: 16.0', color: 'rgba(255,0,0,0.6)', width: 3, dash: [3, 4] },
          { label: 'Predicted DENIS NURJA: 9.9', color: 'rgba(0,0,255,0.6)', width: 3, dash: [3, 4] }
        ],
        rows: 4, font: '14.4px ' + FONT, swatch: 29, textGap: 11.5, colGap: 0,
        padX: 6, padY: 1, rowH: 22.6, alignRight: false, dx: 7, dy: 7
      }
    })]
  });
})();
</script>
</body>
</html>
